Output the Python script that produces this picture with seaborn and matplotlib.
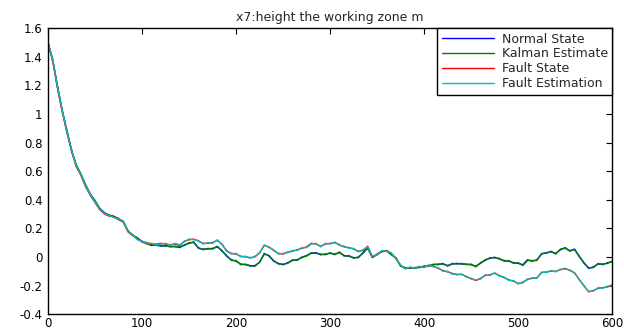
import numpy as np
import pandas as pd
import matplotlib
matplotlib.use("Agg")
import matplotlib.pyplot as plt
import seaborn as sns
from matplotlib.ticker import FuncFormatter

steps = list(range(0, 601, 5))

normal_state = [
    1.50, 1.38, 1.19, 1.03, 0.88, 0.75, 0.64, 0.58, 0.50, 0.44, 0.39, 0.34, 0.31, 0.29, 0.285, 0.265, 0.25, 0.18, 0.155, 0.13, 0.11,
    0.095, 0.08, 0.085, 0.075, 0.08, 0.07, 0.075, 0.065, 0.085, 0.095, 0.105, 0.06, 0.055, 0.055, 0.06, 0.07, 0.045, 0.005, -0.02, -0.03,
    -0.05, -0.055, -0.06, -0.065, -0.035, 0.02, 0.01, -0.03, -0.045, -0.055, -0.04, -0.025, -0.02, -0.005, 0.01, 0.025, 0.03, 0.015, 0.02, 0.025,
    0.02, 0.03, 0.01, 0.005, -0.005, -0.005, 0.03, 0.06, 0.0, 0.015, 0.04, 0.04, 0.02, -0.01, -0.06, -0.08, -0.075, -0.08, -0.07, -0.068,
    -0.06, -0.055, -0.05, -0.05, -0.06, -0.05, -0.045, -0.05, -0.05, -0.055, -0.065, -0.045, -0.02, -0.01, -0.002, -0.015, -0.025, -0.03, -0.04, -0.045,
    -0.055, -0.02, -0.03, -0.02, 0.02, 0.03, 0.035, 0.025, 0.05, 0.065, 0.04, 0.055, 0.002, -0.04, -0.08, -0.07, -0.05, -0.05, -0.045, -0.03,
]

kalman_estimate = [
    1.49, 1.37, 1.20, 1.02, 0.89, 0.74, 0.645, 0.575, 0.505, 0.435, 0.395, 0.335, 0.305, 0.295, 0.28, 0.27, 0.245, 0.185, 0.15, 0.135, 0.105,
    0.09, 0.085, 0.08, 0.08, 0.075, 0.075, 0.07, 0.07, 0.08, 0.1, 0.1, 0.065, 0.05, 0.06, 0.055, 0.075, 0.04, 0.01, -0.025, -0.025,
    -0.055, -0.05, -0.065, -0.06, -0.04, 0.025, 0.005, -0.025, -0.05, -0.05, -0.045, -0.02, -0.025, 0.0, 0.005, 0.03, 0.025, 0.02, 0.015, 0.03,
    0.015, 0.035, 0.005, 0.01, -0.01, 0.0, 0.025, 0.065, -0.005, 0.02, 0.035, 0.045, 0.015, -0.005, -0.065, -0.075, -0.08, -0.075, -0.075, -0.063,
    -0.065, -0.05, -0.055, -0.045, -0.065, -0.045, -0.05, -0.045, -0.055, -0.05, -0.07, -0.04, -0.025, -0.005, -0.007, -0.01, -0.03, -0.025, -0.045, -0.04,
    -0.06, -0.025, -0.025, -0.025, 0.025, 0.025, 0.04, 0.02, 0.055, 0.06, 0.045, 0.05, 0.007, -0.045, -0.075, -0.075, -0.045, -0.055, -0.04, -0.035,
]

fault_state = [
    1.50, 1.37, 1.18, 1.02, 0.87, 0.74, 0.63, 0.57, 0.49, 0.43, 0.38, 0.33, 0.30, 0.285, 0.28, 0.26, 0.245, 0.175, 0.15, 0.125, 0.105,
    0.10, 0.09, 0.09, 0.095, 0.09, 0.085, 0.09, 0.08, 0.11, 0.12, 0.125, 0.11, 0.095, 0.095, 0.10, 0.115, 0.09, 0.04, 0.025, 0.02,
    0.005, 0.0, -0.005, 0.0, 0.03, 0.08, 0.07, 0.045, 0.025, 0.02, 0.035, 0.04, 0.05, 0.06, 0.07, 0.095, 0.09, 0.075, 0.09, 0.095,
    0.10, 0.085, 0.07, 0.065, 0.055, 0.04, 0.045, 0.075, 0.0, 0.02, 0.04, 0.045, 0.025, -0.01, -0.06, -0.08, -0.075, -0.075, -0.07, -0.07,
    -0.06, -0.065, -0.08, -0.095, -0.105, -0.115, -0.125, -0.12, -0.14, -0.15, -0.165, -0.15, -0.13, -0.125, -0.114, -0.13, -0.145, -0.16, -0.17, -0.185,
    -0.18, -0.155, -0.15, -0.145, -0.11, -0.105, -0.10, -0.10, -0.09, -0.08, -0.095, -0.11, -0.16, -0.20, -0.245, -0.235, -0.22, -0.215, -0.21, -0.195,
]

fault_estimation = [
    1.49, 1.38, 1.19, 1.03, 0.875, 0.745, 0.635, 0.575, 0.495, 0.435, 0.385, 0.335, 0.305, 0.29, 0.275, 0.265, 0.25, 0.18, 0.155, 0.12, 0.11,
    0.095, 0.095, 0.085, 0.09, 0.095, 0.08, 0.095, 0.085, 0.105, 0.125, 0.12, 0.115, 0.09, 0.1, 0.095, 0.12, 0.085, 0.045, 0.02, 0.025,
    0.0, 0.005, -0.01, 0.005, 0.025, 0.085, 0.065, 0.05, 0.02, 0.025, 0.03, 0.045, 0.045, 0.065, 0.065, 0.09, 0.095, 0.07, 0.095, 0.09,
    0.105, 0.08, 0.075, 0.06, 0.06, 0.035, 0.05, 0.07, 0.005, 0.015, 0.045, 0.04, 0.03, -0.015, -0.055, -0.085, -0.07, -0.08, -0.065, -0.075,
    -0.055, -0.07, -0.075, -0.1, -0.1, -0.12, -0.12, -0.125, -0.135, -0.155, -0.16, -0.155, -0.125, -0.13, -0.11, -0.135, -0.14, -0.165, -0.165, -0.19,
    -0.175, -0.16, -0.145, -0.15, -0.105, -0.11, -0.095, -0.105, -0.085, -0.085, -0.09, -0.115, -0.155, -0.205, -0.24, -0.24, -0.215, -0.22, -0.205, -0.2,
]

series_names = ["Normal State", "Kalman Estimate", "Fault State", "Fault Estimation"]
series_colors = ["#0000ff", "#008000", "#ff0000", "#00bfbf"]
x_ticks = [0, 100, 200, 300, 400, 500, 600]
y_ticks = [-0.4, -0.2, 0, 0.2, 0.4, 0.6, 0.8, 1, 1.2, 1.4, 1.6]
title_text = "x7:height the working zone m"

df = pd.concat([
    pd.DataFrame({"step": steps, "value": vals, "series": name})
    for name, vals in zip(series_names, [normal_state, kalman_estimate, fault_state, fault_estimation])
], ignore_index=True)

sns.set_style("white")
plt.rcParams["font.family"] = ["DejaVu Sans"]

fig = plt.figure(figsize=(6.24, 3.31), dpi=100)
ax = fig.add_axes([0.077, 0.051, 0.904, 0.864])

sns.lineplot(data=df, x="step", y="value", hue="series", hue_order=series_names,
             palette=dict(zip(series_names, series_colors)), linewidth=1.0,
             ax=ax, legend=True, estimator=None)

ax.set_xlim(0, 600)
ax.set_ylim(-0.4, 1.6)
ax.set_xticks(x_ticks)
ax.set_yticks(y_ticks)
ax.yaxis.set_major_formatter(FuncFormatter(lambda v, p: f"{v:g}"))
ax.set_xlabel("")
ax.set_ylabel("")
ax.tick_params(direction="in", length=4, width=0.8, top=True, right=True,
               labelsize=8.5, colors="black", pad=4)
ax.tick_params(axis="x", pad=2)
for s in ax.spines.values():
    s.set_color("black")
    s.set_linewidth(1.0)
ax.set_title(title_text, fontsize=9, pad=5)

leg = ax.legend(loc="upper right", fontsize=9, frameon=True, fancybox=False,
                edgecolor="black", framealpha=1, borderaxespad=0, handlelength=4.2,
                labelspacing=0.15, borderpad=0.35, handletextpad=0.6)
leg.get_frame().set_linewidth(1.0)

fig.savefig("out.png", dpi=100)
